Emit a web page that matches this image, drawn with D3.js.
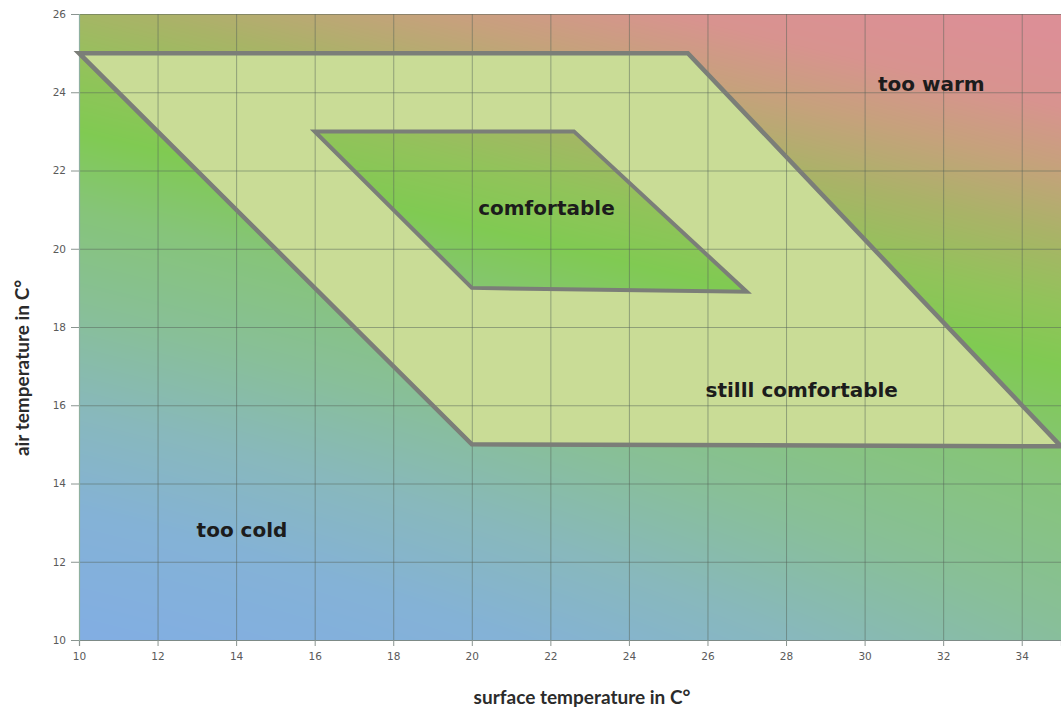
<!DOCTYPE html>
<html>
<head>
<meta charset="utf-8">
<script src="https://cdn.jsdelivr.net/npm/d3@7"></script>
<style>
html,body{margin:0;padding:0;background:#fff;}
svg{display:block;}
</style>
</head>
<body>
<svg id="chart" width="1061" height="709"></svg>
<script>
// ---- data ----
const xTicks = [10, 12, 14, 16, 18, 20, 22, 24, 26, 28, 30, 32, 34];
const yTicks = [10, 12, 14, 16, 18, 20, 22, 24, 26];
const outerX = [10, 25.5, 35, 20];
const outerY = [25, 25, 14.95, 15];
const innerX = [16, 22.6, 27, 20];
const innerY = [23, 23, 18.9, 19];
const labelText = ["too warm", "comfortable", "stilll comfortable", "too cold"];
const labelX = [31.7, 21.9, 28.4, 14.15];
const labelY = [24.03, 20.86, 16.21, 12.63];
const xTitle = "surface temperature in C°";
const yTitle = "air temperature in C°";

// ---- layout ----
const W = 1061, H = 709;
const m = {left: 79, top: 14, right: 0, bottom: 69};
const x = d3.scaleLinear().domain([10, 35]).range([m.left, W - m.right]);
const y = d3.scaleLinear().domain([10, 26]).range([H - m.bottom, m.top]);
const pw = x(35) - x(10), ph = y(10) - y(26);

const svg = d3.select("#chart");

// ---- background gradient (styling) ----
const bandA = [x(10), y(23)], bandB = [x(35), y(17)];
const slope = (bandB[1] - bandA[1]) / (bandB[0] - bandA[0]);
const stopD = [-330, -260, -200, -130, -60, 0, 80, 180, 280, 380, 500];
const stopC = ["#dc8f96", "#d8938f", "#c6a17c", "#a9b367", "#91c35a", "#80ca52",
               "#86c47a", "#88bf98", "#88b8bc", "#84b2d6", "#82aee2"];
const cs = d3.scaleLinear().domain(stopD).range(stopC).interpolate(d3.interpolateRgb).clamp(true);
const cw = Math.round(pw), ch = Math.round(ph);
const canvas = document.createElement("canvas");
canvas.width = cw; canvas.height = ch;
const ctx = canvas.getContext("2d");
const img = ctx.createImageData(cw, ch);
const lut = {};
for (let d = -800; d <= 800; d++) { const c = d3.rgb(cs(d)); lut[d] = [c.r, c.g, c.b]; }
for (let j = 0; j < ch; j++) {
  const py = m.top + j;
  for (let i = 0; i < cw; i++) {
    const px = m.left + i;
    const ly = bandA[1] + slope * (px - bandA[0]);
    let d = py - ly;
    if (d > 0) { const t = i / cw; d = d * (1 - 0.3 * t * t); }
    d = Math.max(-800, Math.min(800, Math.round(d)));
    const c = lut[d];
    const k = (j * cw + i) * 4;
    img.data[k] = c[0]; img.data[k + 1] = c[1]; img.data[k + 2] = c[2]; img.data[k + 3] = 255;
  }
}
ctx.putImageData(img, 0, 0);
svg.append("image")
  .attr("x", m.left).attr("y", m.top)
  .attr("width", cw).attr("height", ch)
  .attr("preserveAspectRatio", "none")
  .attr("href", canvas.toDataURL());

// ---- "still comfortable" ring ----
const outerPts = outerX.map((v, i) => [x(v), y(outerY[i])]);
const innerPts = innerX.map((v, i) => [x(v), y(innerY[i])]);
const closed = d3.line().curve(d3.curveLinearClosed);
svg.append("path")
  .attr("d", closed(outerPts) + closed(innerPts))
  .attr("fill", "#c9dc96")
  .attr("fill-rule", "evenodd");

// ---- grid ----
const grid = svg.append("g").attr("stroke", "#56645a").attr("stroke-opacity", 0.5).attr("stroke-width", 1);
grid.selectAll(".vx").data(xTicks.slice(1)).join("line")
  .attr("x1", d => x(d) + 0.5).attr("x2", d => x(d) + 0.5)
  .attr("y1", y(26)).attr("y2", y(10));
grid.selectAll(".hy").data(yTicks.slice(1)).join("line")
  .attr("x1", x(10)).attr("x2", x(35))
  .attr("y1", d => y(d) + 0.5).attr("y2", d => y(d) + 0.5);

// ---- axes ----
const xAxis = d3.axisBottom(x).tickValues(xTicks).tickSize(6).tickPadding(7).tickFormat(d3.format("d"));
const yAxis = d3.axisLeft(y).tickValues(yTicks).tickSize(8).tickPadding(5).tickFormat(d3.format("d"));
const gx = svg.append("g").attr("transform", `translate(0,${y(10)})`).call(xAxis);
const gy = svg.append("g").attr("transform", `translate(${x(10)},0)`).call(yAxis);
[gx, gy].forEach(g => {
  g.select(".domain").attr("stroke", "#7d8a86").attr("stroke-width", 1.2);
  g.selectAll(".tick line").attr("stroke", "#8a9490");
  g.selectAll(".tick text").attr("fill", "#5a5a5a")
    .style("font-family", "'DejaVu Sans', sans-serif").style("font-size", "10.5px");
});
gy.select(".domain").attr("stroke", "#8fb0a0");

// ---- region borders ----
svg.append("path").attr("d", closed(outerPts))
  .attr("fill", "none").attr("stroke", "#7b7e78").attr("stroke-width", 4.5)
  .attr("stroke-linejoin", "miter").attr("stroke-miterlimit", 12);
svg.append("path").attr("d", closed(innerPts))
  .attr("fill", "none").attr("stroke", "#7b7e78").attr("stroke-width", 4)
  .attr("stroke-linejoin", "miter").attr("stroke-miterlimit", 12);

// ---- region labels ----
svg.selectAll(".lbl").data(labelText).join("text")
  .attr("x", (d, i) => x(labelX[i]))
  .attr("y", (d, i) => y(labelY[i]))
  .attr("text-anchor", "middle")
  .attr("fill", "#1c1c1c")
  .style("font-family", "'DejaVu Sans', sans-serif")
  .style("font-weight", "bold")
  .style("font-size", "20px")
  .text(d => d);

// ---- axis titles ----
svg.append("text")
  .attr("x", 582).attr("y", 704)
  .attr("text-anchor", "middle")
  .attr("fill", "#2b2b2b")
  .style("font-family", "Lato, sans-serif").style("font-weight", "bold").style("font-size", "19px")
  .text(xTitle);
svg.append("text")
  .attr("transform", "translate(29,368) rotate(-90)")
  .attr("text-anchor", "middle")
  .attr("fill", "#2b2b2b")
  .style("font-family", "Lato, sans-serif").style("font-weight", "bold").style("font-size", "19px")
  .text(yTitle);
</script>
</body>
</html>
